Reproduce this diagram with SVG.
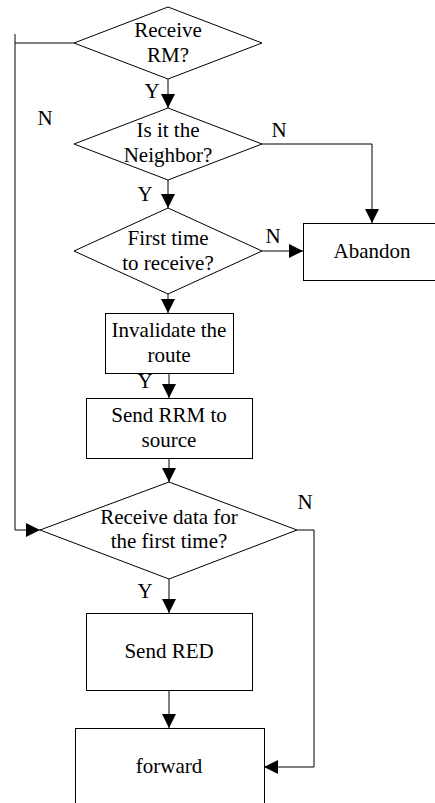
<svg xmlns="http://www.w3.org/2000/svg" width="435" height="803" viewBox="0 0 435 803">
<style>
.s{fill:#fff;stroke:#000;stroke-width:1}
.c{fill:none;stroke:#000;stroke-width:1}
.t{font-family:'Liberation Serif','DejaVu Serif',serif;font-size:21px;fill:#000;text-anchor:middle}
</style>
<defs>
<marker id="a" markerUnits="userSpaceOnUse" markerWidth="14" markerHeight="14" refX="14" refY="7" orient="auto">
<path d="M0,0 L14,7 L0,14 Z" fill="#000"/>
</marker>
</defs>
<rect width="435" height="803" fill="#fff"/>
<g id="connectors">
<path class="c" d="M74,43 H15"/>
<path class="c" d="M15,34 V530 H40" marker-end="url(#a)"/>
<path class="c" d="M168,79 V108" marker-end="url(#a)"/>
<path class="c" d="M262,144 H372 V223" marker-end="url(#a)"/>
<path class="c" d="M168,180 V208" marker-end="url(#a)"/>
<path class="c" d="M262,251 H303" marker-end="url(#a)"/>
<path class="c" d="M168,294 V313" marker-end="url(#a)"/>
<path class="c" d="M169,373 V398" marker-end="url(#a)"/>
<path class="c" d="M169,458 V482" marker-end="url(#a)"/>
<path class="c" d="M169,579 V613" marker-end="url(#a)"/>
<path class="c" d="M169,690 V728" marker-end="url(#a)"/>
<path class="c" d="M297,530 H314 V767 H264" marker-end="url(#a)"/>
<g class="t" font-family="Liberation Serif, serif">
<text x="45" y="125">N</text>
<text x="152" y="98">Y</text>
<text x="279" y="137">N</text>
<text x="145" y="201">Y</text>
<text x="273" y="243">N</text>
<text x="145" y="388">Y</text>
<text x="305" y="509">N</text>
<text x="145" y="598">Y</text>
</g>
</g>
<g id="d1">
<polygon class="s" points="168,7 262,43 168,79 74,43"/>
<text class="t" x="168" y="37">Receive</text>
<text class="t" x="168" y="62">RM?</text>
</g>
<g id="d2">
<polygon class="s" points="168,108 262,144 168,180 74,144"/>
<text class="t" x="168" y="137">Is it the</text>
<text class="t" x="168" y="162">Neighbor?</text>
</g>
<g id="d3">
<polygon class="s" points="168,208 262,251 168,294 74,251"/>
<text class="t" x="168" y="245">First time</text>
<text class="t" x="168" y="270">to receive?</text>
</g>
<g id="abandon">
<rect class="s" x="303.5" y="223.5" width="140" height="57"/>
<text class="t" x="372" y="258">Abandon</text>
</g>
<g id="invalidate">
<rect class="s" x="105.5" y="313.5" width="128" height="60"/>
<text class="t" x="169" y="337">Invalidate the</text>
<text class="t" x="169" y="362">route</text>
</g>
<g id="sendrrm">
<rect class="s" x="86.5" y="398.5" width="166" height="60"/>
<text class="t" x="169" y="422">Send RRM to</text>
<text class="t" x="169" y="447">source</text>
</g>
<g id="d4">
<polygon class="s" points="169,482 297,530 169,579 40,530"/>
<text class="t" x="169" y="524">Receive data for</text>
<text class="t" x="169" y="548">the first time?</text>
</g>
<g id="sendred">
<rect class="s" x="86.5" y="613.5" width="166" height="77"/>
<text class="t" x="169" y="658">Send RED</text>
</g>
<g id="forward">
<rect class="s" x="75.5" y="728.5" width="189" height="90"/>
<text class="t" x="169" y="773">forward</text>
</g>
</svg>
